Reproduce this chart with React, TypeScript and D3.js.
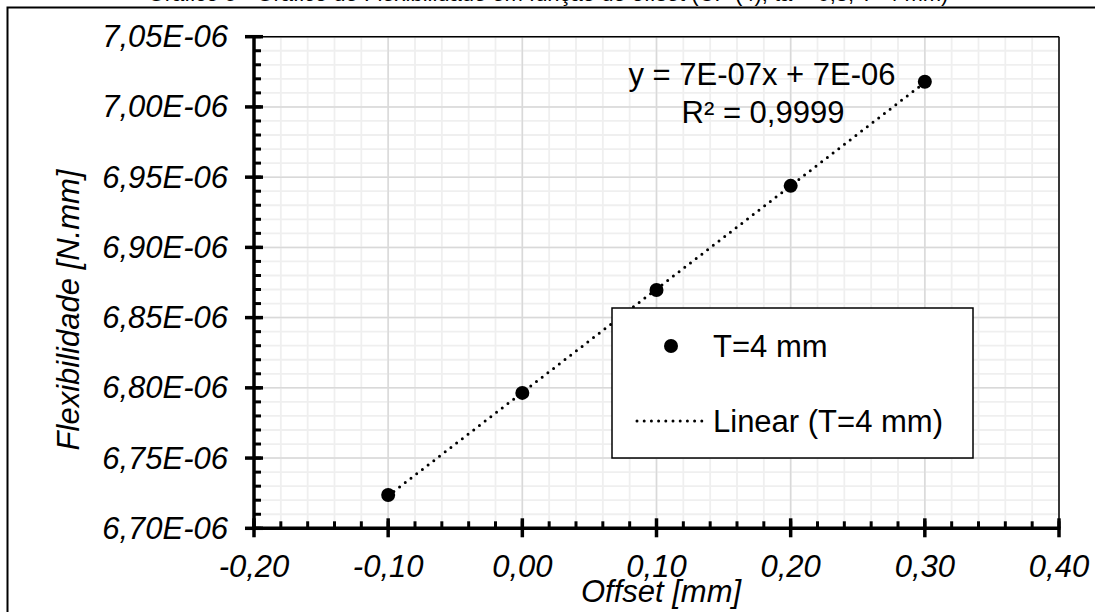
import React from "react";
import * as d3 from "d3";

const offsets = [-0.1, 0.0, 0.1, 0.2, 0.3];
const flex = [6.7237e-6, 6.7964e-6, 6.8697e-6, 6.9438e-6, 7.0179e-6];
const xTicks = [-0.2, -0.1, 0.0, 0.1, 0.2, 0.3, 0.4];
const yTicks = [6.7e-6, 6.75e-6, 6.8e-6, 6.85e-6, 6.9e-6, 6.95e-6, 7.0e-6, 7.05e-6];
const seriesName = "T=4 mm";
const trendName = "Linear (T=4 mm)";
const eqText = "y = 7E-07x + 7E-06";
const r2Text = "R² = 0,9999";
const xTitle = "Offset [mm]";
const yTitle = "Flexibilidade [N.mm]";
const topTitle = "Gráfico 5 - Gráfico de Flexibilidade em função do offset (CP (4), ta = 0,3, T=4 mm)";

const W = 1095;
const H = 612;
const FONT = "'Liberation Sans', Arial, sans-serif";
const FS = 31;

export default function App() {
  const x = d3.scaleLinear().domain([-0.2, 0.4]).range([254, 1059]);
  const y = d3.scaleLinear().domain([6.7e-6, 7.05e-6]).range([528.3, 36.7]);

  const xMinor = d3.range(0, 31).map((i) => -0.2 + i * 0.02);
  const yMinor = d3.range(0, 36).map((i) => 6.7e-6 + i * 0.01e-6);

  // linear regression for trendline
  const n = offsets.length;
  const mx = d3.mean(offsets)!;
  const my = d3.mean(flex)!;
  let sxy = 0,
    sxx = 0;
  for (let i = 0; i < n; i++) {
    sxy += (offsets[i] - mx) * (flex[i] - my);
    sxx += (offsets[i] - mx) ** 2;
  }
  const slope = sxy / sxx;
  const icpt = my - slope * mx;
  const xMin = d3.min(offsets)!;
  const xMax = d3.max(offsets)!;
  const trend = d3.line<number>()
    .x((d) => x(d))
    .y((d) => y(icpt + slope * d))([xMin, xMax]);

  const fmtX = (v: number) => v.toFixed(2).replace(".", ",").replace("-0,00", "0,00");
  const fmtY = (v: number) => (v * 1e6).toFixed(2).replace(".", ",") + "E-06";

  const x0 = x(-0.2);
  const x1 = x(0.4);
  const y0 = y(6.7e-6);
  const y1 = y(7.05e-6);

  return (
    <div style={{ position: "fixed", left: 0, top: 0 }}>
      <svg width={W} height={H} style={{ display: "block", background: "#fff" }} fontFamily={FONT}>
        <rect x={0} y={0} width={W} height={H} fill="#fff" />
        {/* cut-off title */}
        <text x={548} y={1} fontSize={22} textAnchor="middle" fill="#000">{topTitle}</text>
        {/* outer frame */}
        <rect x={7.5} y={7.5} width={1200} height={700} fill="none" stroke="#000" strokeWidth={2} />

        {/* minor grid */}
        {xMinor.map((v, i) => (
          <line key={"xm" + i} x1={x(v)} x2={x(v)} y1={y1} y2={y0} stroke="#efefef" strokeWidth={1.8} />
        ))}
        {yMinor.map((v, i) => (
          <line key={"ym" + i} x1={x0} x2={x1} y1={y(v)} y2={y(v)} stroke="#efefef" strokeWidth={1.8} />
        ))}
        {/* major grid */}
        {xTicks.map((v, i) => (
          <line key={"xg" + i} x1={x(v)} x2={x(v)} y1={y1} y2={y0} stroke="#d9d9d9" strokeWidth={1.5} />
        ))}
        {yTicks.map((v, i) => (
          <line key={"yg" + i} x1={x0} x2={x1} y1={y(v)} y2={y(v)} stroke="#d9d9d9" strokeWidth={1.5} />
        ))}

        {/* plot border top/right */}
        <line x1={x0} x2={x1} y1={y1} y2={y1} stroke="#000" strokeWidth={1.5} />
        <line x1={x1} x2={x1} y1={y1} y2={y0} stroke="#000" strokeWidth={1.5} />

        {/* trendline */}
        <path d={trend!} fill="none" stroke="#000" strokeWidth={3} strokeDasharray="0 7.2" strokeLinecap="round" />

        {/* points */}
        {offsets.map((v, i) => (
          <circle key={"p" + i} cx={x(v)} cy={y(flex[i])} r={7} fill="#000" />
        ))}

        {/* axes */}
        <line x1={x0} x2={x1 + 1.5} y1={y0} y2={y0} stroke="#000" strokeWidth={3.5} />
        <line x1={x0} x2={x0} y1={y1 - 1.5} y2={y0} stroke="#000" strokeWidth={3.5} />
        {xMinor.map((v, i) => (
          <line key={"xt" + i} x1={x(v)} x2={x(v)} y1={y0} y2={y0 - 7} stroke="#000" strokeWidth={3} />
        ))}
        {yMinor.map((v, i) => (
          <line key={"yt" + i} x1={x0} x2={x0 + 7} y1={y(v)} y2={y(v)} stroke="#000" strokeWidth={3} />
        ))}
        {xTicks.map((v, i) => (
          <line key={"xT" + i} x1={x(v)} x2={x(v)} y1={y0 - 10} y2={y0 + 9} stroke="#000" strokeWidth={3.5} />
        ))}
        {yTicks.map((v, i) => (
          <line key={"yT" + i} x1={x0 - 9} x2={x0 + 9} y1={y(v)} y2={y(v)} stroke="#000" strokeWidth={3.5} />
        ))}

        {/* tick labels */}
        {xTicks.map((v, i) => (
          <text key={"xl" + i} x={x(v)} y={577} fontSize={FS} fontStyle="italic" textAnchor="middle" fill="#000">
            {fmtX(v)}
          </text>
        ))}
        {yTicks.map((v, i) => (
          <text key={"yl" + i} x={228} y={y(v) + 10.5} fontSize={FS} fontStyle="italic" textAnchor="end" fill="#000">
            {fmtY(v)}
          </text>
        ))}

        {/* axis titles */}
        <text x={661} y={602} fontSize={FS} fontStyle="italic" textAnchor="middle" fill="#000">{xTitle}</text>
        <text
          transform={`translate(79,${310}) rotate(-90)`}
          fontSize={FS}
          fontStyle="italic"
          textAnchor="middle"
          fill="#000"
        >
          {yTitle}
        </text>

        {/* equation */}
        <text x={762} y={85} fontSize={FS} textAnchor="middle" fill="#000">{eqText}</text>
        <text x={763} y={123} fontSize={FS} textAnchor="middle" fill="#000">{r2Text}</text>

        {/* legend */}
        <rect x={612} y={308} width={361} height={150} fill="#fff" stroke="#000" strokeWidth={1.5} />
        <circle cx={671} cy={346} r={7} fill="#000" />
        <text x={713} y={357} fontSize={FS} fill="#000">{seriesName}</text>
        <line x1={637} x2={705} y1={421} y2={421} stroke="#000" strokeWidth={3} strokeDasharray="0 7.2" strokeLinecap="round" />
        <text x={713} y={432} fontSize={FS} fill="#000">{trendName}</text>
      </svg>
    </div>
  );
}
